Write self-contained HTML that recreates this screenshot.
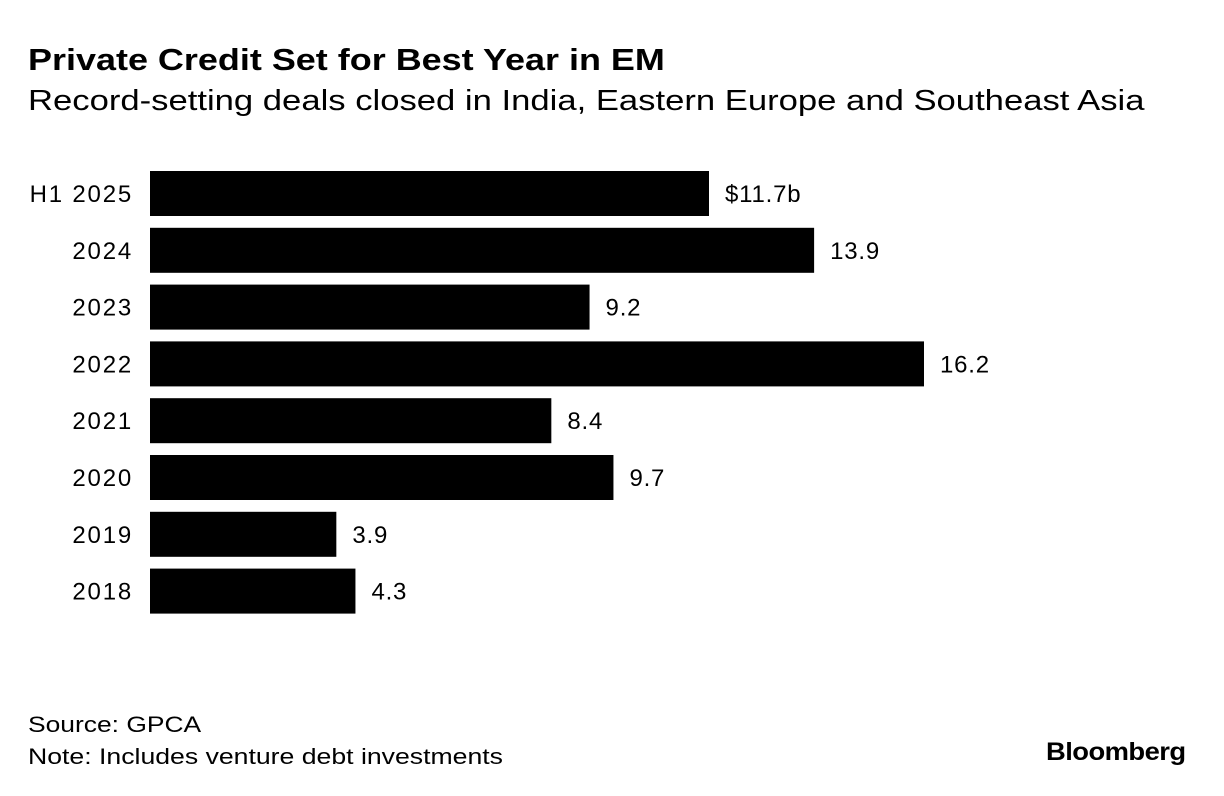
<!DOCTYPE html>
<html><head><meta charset="utf-8"><style>
body{margin:0;background:#fff;font-family:"Liberation Sans",sans-serif;color:#000}
#wrap{position:relative;width:1224px;height:796px;overflow:hidden}
.t{position:absolute;white-space:nowrap;transform-origin:left top}
</style></head><body>
<div id="wrap">
<div class="t" style="left:28px;top:42px;font-size:31px;font-weight:bold;transform:scaleX(1.16)">Private Credit Set for Best Year in EM</div>
<div class="t" style="left:28px;top:85px;font-size:28.5px;transform:scaleX(1.215)">Record-setting deals closed in India, Eastern Europe and Southeast Asia</div>
<svg id="plot" width="1224" height="796" style="position:absolute;left:0;top:0"></svg>
<div class="t" style="left:28px;top:712px;font-size:22px;transform:scaleX(1.2)">Source: GPCA</div>
<div class="t" style="left:28px;top:744px;font-size:22px;transform:scaleX(1.21)">Note: Includes venture debt investments</div>
<div class="t" style="left:1046px;top:738px;font-size:25px;font-weight:bold;letter-spacing:-0.5px;transform:scaleX(1.095)">Bloomberg</div>
</div>
<script>
const categories=["H1 2025","2024","2023","2022","2021","2020","2019","2018"];
const values=[11.7,13.9,9.2,16.2,8.4,9.7,3.9,4.3];
const valueLabels=["$11.7b","13.9","9.2","16.2","8.4","9.7","3.9","4.3"];
const svg=document.getElementById('plot');
const NS='http://www.w3.org/2000/svg';
const x0=150,pxPer=(924-150)/16.2;
const xs=v=>x0+v*pxPer;
const yTop=i=>171+i*56.8;
const bh=45;
categories.forEach((c,i)=>{
  const r=document.createElementNS(NS,'rect');
  r.setAttribute('x',x0);r.setAttribute('y',yTop(i));
  r.setAttribute('width',xs(values[i])-x0);r.setAttribute('height',bh);
  r.setAttribute('fill','#000');
  
  
  svg.appendChild(r);
  const l=document.createElementNS(NS,'text');
  l.setAttribute('x',133);l.setAttribute('y',yTop(i)+bh/2+8.5);
  l.setAttribute('text-anchor','end');l.setAttribute('font-size','24');
  l.setAttribute('letter-spacing','1.8');
  l.setAttribute('font-family','Liberation Sans, sans-serif');
  l.textContent=c;
  
  
  svg.appendChild(l);
  const v=document.createElementNS(NS,'text');
  v.setAttribute('x',xs(values[i])+16);v.setAttribute('y',yTop(i)+bh/2+8.5);
  v.setAttribute('font-size','24');
  v.setAttribute('letter-spacing','0.8');
  v.setAttribute('font-family','Liberation Sans, sans-serif');
  v.textContent=valueLabels[i];
  
  
  svg.appendChild(v);
});
</script>
</body></html>
